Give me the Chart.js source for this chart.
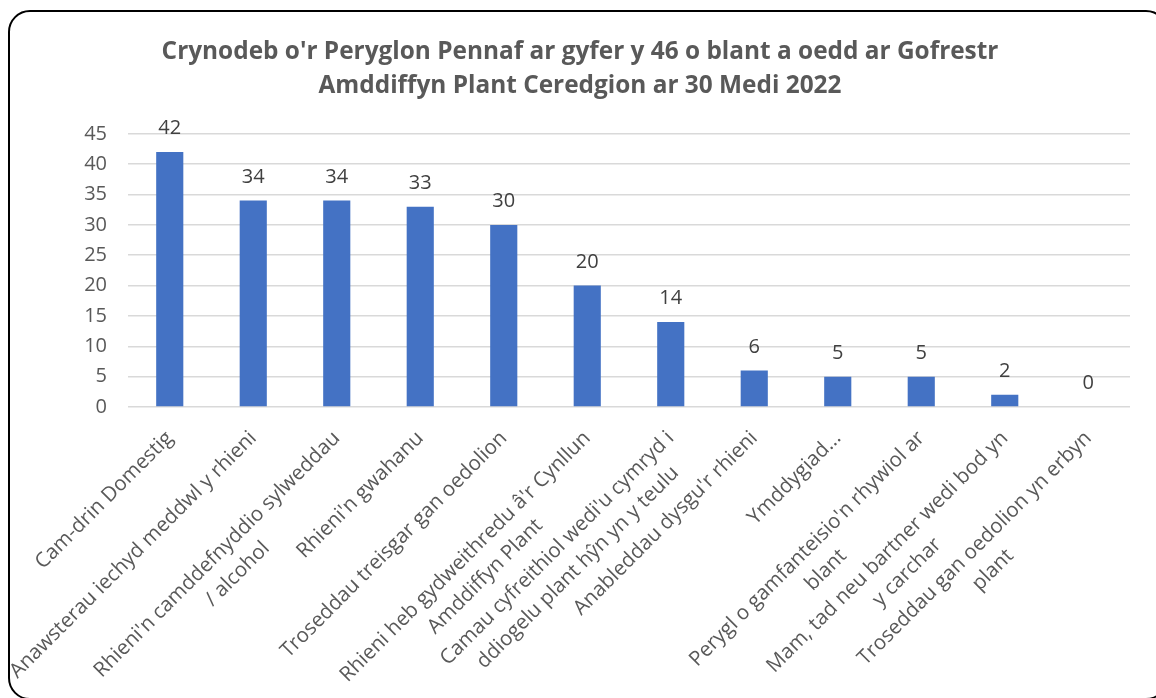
<!DOCTYPE html>
<html>
<head>
<meta charset="utf-8">
<script src="https://cdn.jsdelivr.net/npm/chart.js@4"></script>
<style>
  html, body { margin: 0; padding: 0; background: #fff; overflow: hidden; }
  #wrap { position: relative; width: 1156px; height: 698px; }
  #frame {
    position: absolute; left: 8px; top: 10px; width: 1160px; height: 690px;
    border: 2px solid #000; border-radius: 22px; box-sizing: border-box;
    pointer-events: none;
  }
</style>
</head>
<body>
<div id="wrap">
  <canvas id="chart" width="1156" height="698"></canvas>
  <div id="frame"></div>
</div>
<script>
// Chart data
const categories = [
    ["Cam-drin Domestig"],
    ["Anawsterau iechyd meddwl y rhieni"],
    ["Rhieni'n camddefnyddio sylweddau", "/ alcohol"],
    ["Rhieni'n gwahanu"],
    ["Troseddau treisgar gan oedolion"],
    ["Rhieni heb gydweithredu â'r Cynllun", "Amddiffyn Plant"],
    ["Camau cyfreithiol wedi'u cymryd i", "ddiogelu plant hŷn yn y teulu"],
    ["Anableddau dysgu'r rhieni"],
    ["Ymddygiad..."],
    ["Perygl o gamfanteisio'n rhywiol ar", "blant"],
    ["Mam, tad neu bartner wedi bod yn", "y carchar"],
    ["Troseddau gan oedolion yn erbyn", "plant"]
];
const values = [42, 34, 34, 33, 30, 20, 14, 6, 5, 5, 2, 0];
const titleLines = [
    "Crynodeb o'r Peryglon Pennaf ar gyfer y 46 o blant a oedd ar Gofrestr",
    "Amddiffyn Plant Ceredgion ar 30 Medi 2022"
];
const yMin = 0, yMax = 45, yStep = 5;

const FONT = "'Open Sans', sans-serif";
const labelFont = { family: FONT, size: 20.5, lineHeight: 1.37 };

// Rotated tick labels are right aligned by Chart.js; pad short lines with
// spaces so every line sits centred under the longest one (like Excel does)
function centreLines(lines) {
    if (lines.length < 2) return lines.length === 1 ? lines[0] : lines;
    const ctx = document.createElement('canvas').getContext('2d');
    ctx.font = labelFont.size + 'px ' + FONT;
    const widths = lines.map(l => ctx.measureText(l).width);
    const maxW = Math.max(...widths);
    const spaceW = ctx.measureText(' ').width;
    return lines.map((l, i) => l + ' '.repeat(Math.round((maxW - widths[i]) / 2 / spaceW)));
}

// Draws the value above each bar
const valueLabels = {
    id: 'valueLabels',
    afterDatasetsDraw(chart) {
        const ctx = chart.ctx;
        const meta = chart.getDatasetMeta(0);
        ctx.save();
        ctx.font = '20px ' + FONT;
        ctx.fillStyle = '#404040';
        ctx.textAlign = 'center';
        ctx.textBaseline = 'alphabetic';
        meta.data.forEach((bar, i) => {
            ctx.fillText(values[i], bar.x, bar.y - 18);
        });
        ctx.restore();
    }
};

document.addEventListener('DOMContentLoaded', () => {
    const ctx = document.getElementById('chart').getContext('2d');
    new Chart(ctx, {
        type: 'bar',
        data: {
            labels: categories.map(centreLines),
            datasets: [{
                data: values,
                backgroundColor: '#4472C4',
                categoryPercentage: 1,
                barPercentage: 0.325
            }]
        },
        options: {
            responsive: false,
            animation: false,
            layout: { padding: { top: 35, left: 30, right: 26, bottom: 0 } },
            plugins: {
                legend: { display: false },
                tooltip: { enabled: false },
                title: {
                    display: true,
                    text: titleLines,
                    color: '#595959',
                    font: { family: FONT, size: 24.4, weight: 'bold', lineHeight: 1.39 },
                    padding: { top: 0, bottom: 31 }
                }
            },
            scales: {
                x: {
                    grid: { display: false },
                    border: { display: false },
                    ticks: {
                        color: '#595959',
                        font: labelFont,
                        minRotation: 45,
                        maxRotation: 45,
                        autoSkip: false,
                        padding: 10
                    },
                    afterFit: (scale) => { scale.height = 291; }
                },
                y: {
                    min: yMin,
                    max: yMax,
                    border: { display: false },
                    grid: { color: '#d9d9d9', lineWidth: 1.5, drawTicks: false },
                    ticks: {
                        stepSize: yStep,
                        color: '#595959',
                        font: { family: FONT, size: 20 },
                        padding: 21
                    },
                    afterFit: (scale) => { scale.width = 98; }
                }
            }
        },
        plugins: [valueLabels]
    });
});
</script>
</body>
</html>
